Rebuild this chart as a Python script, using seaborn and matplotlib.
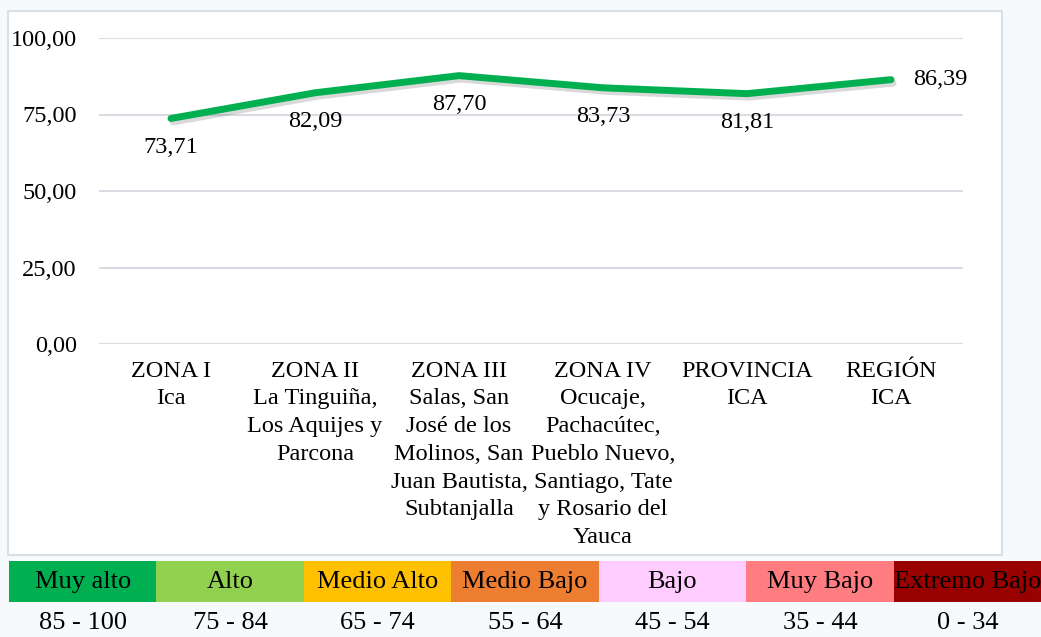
"""Line chart of zone scores with a colour-band legend strip underneath."""

import matplotlib
matplotlib.use("Agg")
import matplotlib.pyplot as plt
import matplotlib.patheffects as pe
from matplotlib.patches import Rectangle
import seaborn as sns

# --- data -------------------------------------------------------------------
categories = [
    "ZONA I\nIca",
    "ZONA II\nLa Tinguiña,\nLos Aquijes y\nParcona",
    "ZONA III\nSalas, San\nJosé de los\nMolinos, San\nJuan Bautista,\nSubtanjalla",
    "ZONA IV\nOcucaje,\nPachacútec,\nPueblo Nuevo,\nSantiago, Tate\ny Rosario del\nYauca",
    "PROVINCIA\nICA",
    "REGIÓN\nICA",
]
values = [73.71, 82.09, 87.70, 83.73, 81.81, 86.39]
y_ticks = [0, 25, 50, 75, 100]

levels = ["Muy alto", "Alto", "Medio Alto", "Medio Bajo", "Bajo", "Muy Bajo", "Extremo Bajo"]
ranges = ["85 - 100", "75 - 84", "65 - 74", "55 - 64", "45 - 54", "35 - 44", "0 - 34"]
level_colors = ["#00B050", "#92D050", "#FFC000", "#ED7D31", "#FFCCFF", "#FF7C80", "#990000"]

# --- style ------------------------------------------------------------------
sns.set_theme(style="white")
plt.rcParams["font.family"] = ["Liberation Serif", "DejaVu Serif"]
plt.rcParams["text.color"] = "black"
FS = 17.5
FS_LEG = 19

W, H = 1041, 637
fig = plt.figure(figsize=(W / 100, H / 100), dpi=100)
fig.patch.set_facecolor("#F7FAFC")


def px_axes(x0, y0, x1, y1, **kw):
    """Add axes from pixel box (top-left origin)."""
    return fig.add_axes([x0 / W, 1 - y1 / H, (x1 - x0) / W, (y1 - y0) / H], **kw)


# chart frame, drawn behind everything
bg = px_axes(0, 0, W, H, zorder=-1)
bg.set_xlim(0, W)
bg.set_ylim(H, 0)
bg.axis("off")
bg.add_patch(Rectangle((8, 11), 1002 - 8, 555 - 11, facecolor="white",
                       edgecolor="#D9DFE6", linewidth=1.5))

ax = px_axes(99, 38, 963, 344)
ax.set_facecolor("none")
x = list(range(len(values)))
sns.lineplot(x=x, y=values, ax=ax, color="#00B050", linewidth=5,
             solid_capstyle="round", zorder=3)
line = ax.lines[0]
line.set_path_effects([
    pe.SimpleLineShadow(offset=(1.5, -2.5), shadow_color="#555555", alpha=0.22),
    pe.Normal(),
])

ax.set_xlim(-0.5, len(values) - 0.5)
ax.set_ylim(0, 100)
ax.set_yticks(y_ticks)
ax.set_yticklabels([f"{v:.2f}".replace(".", ",") for v in y_ticks], fontsize=FS)
ax.set_xticks(x)
ax.set_xticklabels(categories, fontsize=FS, va="top", linespacing=1.42)
ax.tick_params(axis="both", length=0, colors="black")
ax.tick_params(axis="y", pad=16)
ax.tick_params(axis="x", pad=12)
ax.grid(axis="y", color="#D9DDE3", linewidth=1.5)
ax.grid(axis="x", visible=False)
for s in ax.spines.values():
    s.set_visible(False)
ax.set_xlabel("")
ax.set_ylabel("")

for i, v in enumerate(values):
    txt = f"{v:.2f}".replace(".", ",")
    if i == len(values) - 1:
        ax.annotate(txt, (i, v), xytext=(16, 0), textcoords="offset points",
                    ha="left", va="center", fontsize=FS, color="black")
    else:
        ax.annotate(txt, (i, v), xytext=(0, -21), textcoords="offset points",
                    ha="center", va="center", fontsize=FS, color="black")

# --- legend strip -----------------------------------------------------------
lx = px_axes(9, 561, 1041, 637)
lx.set_facecolor("none")
pos = list(range(len(levels)))
lx.bar(pos, [41] * len(levels), width=1.0, bottom=35, color=level_colors,
       linewidth=0)
for i, (lab, rng) in enumerate(zip(levels, ranges)):
    lx.text(i, 55, lab, ha="center", va="center", fontsize=FS_LEG, color="black")
    lx.text(i, 14, rng, ha="center", va="center", fontsize=FS_LEG, color="black")
lx.set_xlim(-0.5, len(levels) - 0.5)
lx.set_ylim(0, 76)
lx.axis("off")

fig.savefig("out.png", dpi=100, facecolor=fig.get_facecolor())
